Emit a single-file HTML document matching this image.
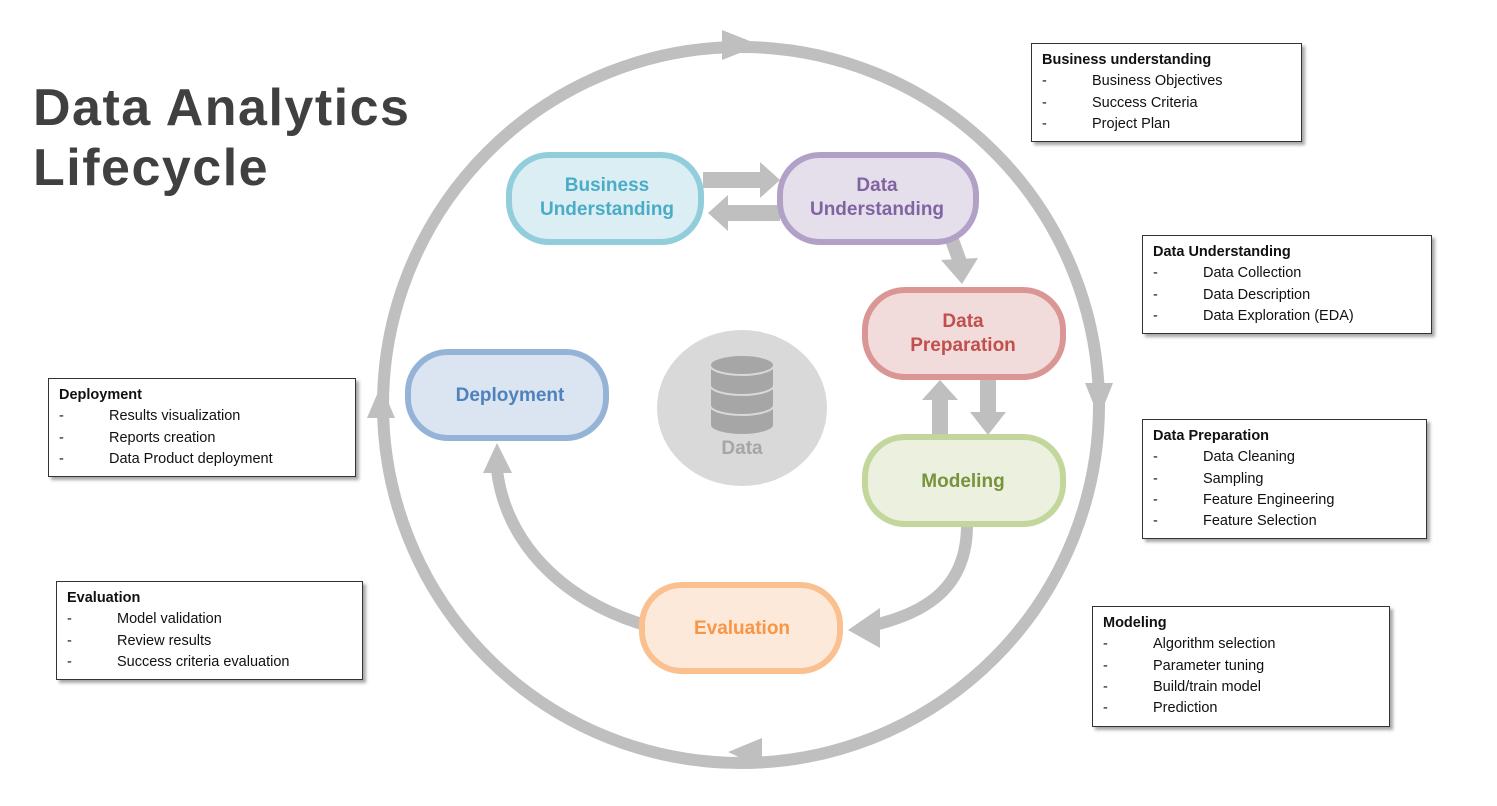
<!DOCTYPE html>
<html><head><meta charset="utf-8"><style>
body{margin:0;width:1497px;height:806px;background:#fff;position:relative;overflow:hidden;font-family:"Liberation Sans",sans-serif}
.title{position:absolute;left:33px;top:78px;font-size:52px;font-weight:bold;color:#404040;line-height:60px;letter-spacing:1.5px}
.box{position:absolute;border:1.5px solid #333;background:#fff;box-shadow:3px 3px 3px rgba(0,0,0,0.35);font-size:14.5px;color:#111;padding:6px 10px;box-sizing:border-box;line-height:21.3px}
.box b{display:block}
.box div span{display:inline-block;width:50px}
</style></head><body>
<div class="title">Data Analytics<br>Lifecycle</div>
<svg width="1497" height="806" style="position:absolute;left:0;top:0">
<g fill="none" stroke="#bfbfbf" stroke-width="12">
<ellipse cx="741" cy="405" rx="358" ry="358"/>
<path d="M967 525 C967 585 930 615 860 628"/>
<path d="M645 625 C560 600 505 540 497 470"/>
<path d="M952 240 L960 262" stroke-width="14"/>
</g>
<g fill="#bfbfbf">
<polygon points="722,30 760,45 722,60"/>
<polygon points="1085,383 1099,418 1113,383"/>
<polygon points="762,738 728,752 762,768"/>
<polygon points="367,418 381,385 395,418"/>
<polygon points="703,172 760,172 760,162 780,180 760,198 760,188 703,188"/>
<polygon points="780,205 728,205 728,195 708,213 728,231 728,221 780,221"/>
<polygon points="941,260 978,258 962,284"/>
<polygon points="932,435 932,400 922,400 940,380 958,400 948,400 948,435"/>
<polygon points="980,380 996,380 996,412 1006,412 988,435 970,412 980,412"/>
<polygon points="880,608 848,630 880,648"/>
<polygon points="483,473 497,443 512,473"/>
</g>
<ellipse cx="742" cy="408" rx="85" ry="78" fill="#d9d9d9"/>
<g fill="#a6a6a6" stroke="#d9d9d9" stroke-width="2">
<path d="M710 365 v60 a32 10 0 0 0 64 0 v-60 z"/>
<path d="M710 405 a32 10 0 0 0 64 0" fill="none"/>
<path d="M710 385 a32 10 0 0 0 64 0" fill="none"/>
<ellipse cx="742" cy="365" rx="32" ry="10"/>
</g>
<text x="742" y="454" text-anchor="middle" font-family="Liberation Sans" font-weight="bold" font-size="19" fill="#a6a6a6">Data</text>
<g stroke-width="6" font-family="Liberation Sans" font-weight="bold" font-size="19" text-anchor="middle">
<rect x="509" y="155" width="192" height="87" rx="40" fill="#daeef3" stroke="#92cddc"/>
<text x="607" y="191" fill="#4bacc6" stroke="none">Business</text><text x="607" y="215" fill="#4bacc6" stroke="none">Understanding</text>
<rect x="780" y="155" width="196" height="87" rx="40" fill="#e5dfec" stroke="#b2a1c7"/>
<text x="877" y="191" fill="#8064a2" stroke="none">Data</text><text x="877" y="215" fill="#8064a2" stroke="none">Understanding</text>
<rect x="865" y="290" width="198" height="87" rx="40" fill="#f2dcdb" stroke="#d99694"/>
<text x="963" y="327" fill="#c0504d" stroke="none">Data</text><text x="963" y="351" fill="#c0504d" stroke="none">Preparation</text>
<rect x="865" y="437" width="198" height="87" rx="40" fill="#ebf1de" stroke="#c3d69b"/>
<text x="963" y="487" fill="#77933c" stroke="none">Modeling</text>
<rect x="642" y="585" width="198" height="86" rx="40" fill="#fde9d9" stroke="#fac090"/>
<text x="742" y="634" fill="#f79646" stroke="none">Evaluation</text>
<rect x="408" y="352" width="198" height="86" rx="40" fill="#dbe5f1" stroke="#95b3d7"/>
<text x="510" y="401" fill="#4f81bd" stroke="none">Deployment</text>
</g>
</svg>
<div class="box" style="left:1031px;top:43px;width:271px;height:99px"><b>Business understanding</b><div><span>-</span>Business Objectives</div><div><span>-</span>Success Criteria</div><div><span>-</span>Project Plan</div></div>
<div class="box" style="left:1142px;top:235px;width:290px;height:99px"><b>Data Understanding</b><div><span>-</span>Data Collection</div><div><span>-</span>Data Description</div><div><span>-</span>Data Exploration (EDA)</div></div>
<div class="box" style="left:1142px;top:419px;width:285px;height:120px"><b>Data Preparation</b><div><span>-</span>Data Cleaning</div><div><span>-</span>Sampling</div><div><span>-</span>Feature Engineering</div><div><span>-</span>Feature Selection</div></div>
<div class="box" style="left:1092px;top:606px;width:298px;height:121px"><b>Modeling</b><div><span>-</span>Algorithm selection</div><div><span>-</span>Parameter tuning</div><div><span>-</span>Build/train model</div><div><span>-</span>Prediction</div></div>
<div class="box" style="left:48px;top:378px;width:308px;height:99px"><b>Deployment</b><div><span>-</span>Results visualization</div><div><span>-</span>Reports creation</div><div><span>-</span>Data Product deployment</div></div>
<div class="box" style="left:56px;top:581px;width:307px;height:99px"><b>Evaluation</b><div><span>-</span>Model validation</div><div><span>-</span>Review results</div><div><span>-</span>Success criteria evaluation</div></div>
</body></html>
